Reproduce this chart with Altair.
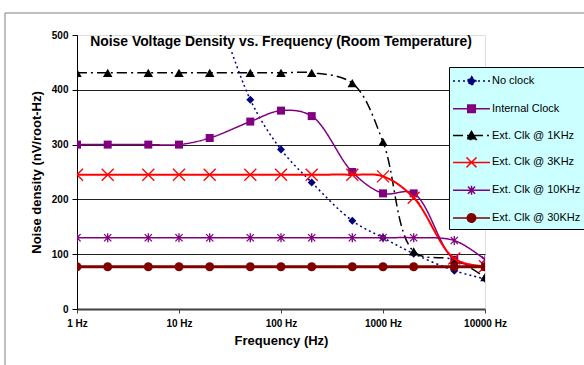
import altair as alt
import pandas as pd

# Measurement frequencies (Hz)
freqs = [1, 2, 5, 10, 20, 50, 100, 200, 500, 1000, 2000, 5000, 10000]

# Noise density (nV/root-Hz) per clock configuration
no_clock_freqs = [20, 50, 100, 200, 500, 1000, 2000, 5000, 10000]
no_clock = [590, 382, 291, 231, 161, 130, 101, 70, 55]
internal_clock = [300, 300, 300, 300, 312, 342, 362, 352, 250, 211, 211, 90, 77]
ext_1khz = [431, 431, 431, 431, 431, 431, 431, 431, 412, 305, 105, 90, 58]
ext_3khz = [245, 245, 245, 245, 245, 245, 245, 245, 245, 242, 203, 92, 78]
ext_10khz = [130, 130, 130, 130, 130, 130, 130, 130, 130, 130, 130, 125, 90]
ext_30khz = [77, 77, 77, 77, 77, 77, 77, 77, 77, 77, 77, 77, 77]

series_names = [
    "No clock",
    "Internal Clock",
    "Ext. Clk @ 1KHz",
    "Ext. Clk @ 3KHz",
    "Ext. Clk @ 10KHz",
    "Ext. Clk @ 30KHz",
]
series_freqs = [no_clock_freqs, freqs, freqs, freqs, freqs, freqs]
series_values = [no_clock, internal_clock, ext_1khz, ext_3khz, ext_10khz, ext_30khz]

# Styling per series
colors = ["#000080", "#800080", "#000000", "#FF0000", "#800080", "#800000"]
dashes = [[2, 3], [1, 0], [10, 4, 2, 4], [1, 0], [1, 0], [1, 0]]
line_widths = [1.5, 1.5, 1.5, 2, 1.5, 3]
X_PATH = "M-1,-1L1,1M-1,1L1,-1"
STAR_PATH = "M-0.8,-0.8L0.8,0.8M-0.8,0.8L0.8,-0.8M0,-1V1"
marker_shapes = ["diamond", "square", "triangle-up", X_PATH, STAR_PATH, "circle"]
marker_sizes = [64, 64, 90, 144, 81, 81]
marker_filled = [True, True, True, False, False, True]

# Legend glyphs (10 px per unit): a line segment with the marker in the middle
legend_glyphs = [
    "M-1.85,0H1.85M0,-0.45L0.45,0L0,0.45L-0.45,0Z",
    "M-1.85,0H1.85M-0.38,-0.38H0.38V0.38H-0.38Z",
    "M-1.85,0H1.85M0,-0.42L0.47,0.38H-0.47Z",
    "M-1.85,0H1.85M-0.5,-0.5L0.5,0.5M-0.5,0.5L0.5,-0.5",
    "M-1.85,0H1.85M-0.36,-0.36L0.36,0.36M-0.36,0.36L0.36,-0.36M0,-0.45V0.45",
    "M-1.85,0H1.85M0.42,0A0.42,0.42,0,1,1,-0.42,0A0.42,0.42,0,1,1,0.42,0Z",
]

FONT = "Liberation Sans"
W, H = 408, 274

x_scale = alt.Scale(type="log", domain=[1, 10000], nice=False)
y_scale = alt.Scale(domain=[0, 500], nice=False)

x_axis = alt.Axis(
    values=[1, 10, 100, 1000, 10000],
    labelExpr="datum.value + ' Hz'",
    grid=False,
    domainColor="#404040",
    domainWidth=2,
    tickColor="#404040",
    tickSize=4,
    labelFont=FONT,
    labelFontSize=10,
    labelFontWeight="bold",
    labelColor="black",
    labelPadding=5,
    labelFlush=False,
    title="Frequency (Hz)",
    titleFont=FONT,
    titleFontSize=13,
    titleFontWeight="bold",
    titleColor="black",
    titlePadding=6,
)
y_axis = alt.Axis(
    values=[0, 100, 200, 300, 400, 500],
    grid=True,
    gridColor={
        "condition": {"test": "datum.value <= 0 || datum.value >= 500", "value": "transparent"},
        "value": "#222222",
    },
    gridWidth=1,
    domainColor="black",
    tickColor="black",
    tickSize=5,
    labelFont=FONT,
    labelFontSize=10,
    labelFontWeight="bold",
    labelColor="black",
    labelPadding=4,
    title="Noise density (nV/root-Hz)",
    titleFont=FONT,
    titleFontSize=13,
    titleFontWeight="bold",
    titleColor="black",
    titlePadding=8,
)

x_enc = alt.X("freq:Q", scale=x_scale, axis=x_axis)
y_enc = alt.Y("value:Q", scale=y_scale, axis=y_axis)

layers = []

# Outer chart frame and the white band behind the title
frame = alt.Chart(pd.DataFrame({"k": [0]})).mark_rect(
    fill="white", fillOpacity=0, stroke="#808080", strokeWidth=1
).encode(x=alt.value(-72), x2=alt.value(640), y=alt.value(-22), y2=alt.value(420))
title_band = alt.Chart(pd.DataFrame({"k": [0]})).mark_rect(color="white").encode(
    x=alt.value(12), x2=alt.value(403), y=alt.value(1), y2=alt.value(15)
)
layers.append(frame)

for name, fs, vals, col, dash, lw, shp, sz, filled in zip(
    series_names, series_freqs, series_values, colors, dashes, line_widths,
    marker_shapes, marker_sizes, marker_filled,
):
    df = pd.DataFrame({"freq": fs, "value": vals, "series": name})
    base = alt.Chart(df)
    line = base.mark_line(
        color=col, strokeDash=dash, strokeWidth=lw, interpolate="catmull-rom", clip=True
    ).encode(x=x_enc, y=y_enc)
    pts = base.mark_point(
        shape=shp, size=sz, filled=filled, color=col, opacity=1,
        strokeWidth=1.3, clip=True,
    ).encode(x=x_enc, y=y_enc)
    layers += [line, pts]

layers.append(title_band)

# Legend built from an invisible layer
legend = alt.Legend(
    title=None,
    orient="none",
    legendX=372,
    legendY=32,
    fillColor="#CCFFFF",
    strokeColor="black",
    padding=3,
    symbolSize=400,
    symbolStrokeWidth=1.5,
    symbolOpacity=1,
    symbolOffset=8.5,
    labelFont=FONT,
    labelFontSize=11,
    labelColor="black",
    labelOffset=9.5,
    rowPadding=8.8,
    symbolLimit=0,
)
leg_df = pd.DataFrame({"series": series_names})
leg_layer = alt.Chart(leg_df).mark_point(opacity=0, filled=True).encode(
    x=alt.value(0),
    y=alt.value(0),
    shape=alt.Shape("series:N", sort=series_names,
                    scale=alt.Scale(domain=series_names, range=legend_glyphs), legend=legend),
    fill=alt.Fill("series:N", sort=series_names,
                  scale=alt.Scale(domain=series_names, range=colors), legend=legend),
    stroke=alt.Stroke("series:N", sort=series_names,
                      scale=alt.Scale(domain=series_names, range=colors), legend=legend),
    strokeDash=alt.StrokeDash("series:N", sort=series_names,
                              scale=alt.Scale(domain=series_names, range=dashes), legend=legend),
)
layers.append(leg_layer)

chart = alt.layer(*layers).properties(
    width=W,
    height=H,
    padding={"left": 77, "top": 35, "right": 99, "bottom": 56},
    autosize=alt.AutoSizeParams(type="none"),
    title=alt.TitleParams(
        "Noise Voltage Density vs. Frequency (Room Temperature)",
        font=FONT, fontSize=13.9, fontWeight="bold", color="black",
        anchor="middle", frame="group", baseline="alphabetic", offset=0, dy=47,
    ),
).configure_view(
    fill="#C0C0C0", stroke="#808080", strokeWidth=1
).configure(background="white")

chart.save("out.html", embed_options={"renderer": "svg", "actions": False})
